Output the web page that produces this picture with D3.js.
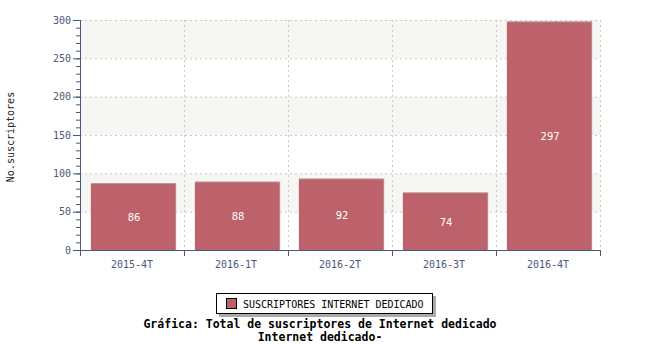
<!DOCTYPE html>
<html>
<head>
<meta charset="utf-8">
<script src="https://cdn.jsdelivr.net/npm/d3@7"></script>
<style>
  body { margin: 0; background: #fff; }
  svg text { font-family: "DejaVu Sans Mono", monospace; }
</style>
</head>
<body>
<svg id="chart" width="650" height="350"></svg>
<script>
const categories = ["2015-4T", "2016-1T", "2016-2T", "2016-3T", "2016-4T"];
const subscribers = [86, 88, 92, 74, 297];
const yTicks = [0, 50, 100, 150, 200, 250, 300];
const seriesName = "SUSCRIPTORES INTERNET DEDICADO";
const titleLines = ["Gráfica: Total de suscriptores de Internet dedicado", "Internet dedicado-"];

const svg = d3.select("#chart");
const margin = { top: 20, right: 50, bottom: 100, left: 80 };
const width = 650 - margin.left - margin.right;
const height = 350 - margin.top - margin.bottom;
const axisColor = "#4b5878";
const barColor = "#bd616b";

const x = d3.scaleBand().domain(categories).range([0, width]).padding(0);
const y = d3.scaleLinear().domain([0, 300]).range([height, 0]);

const g = svg.append("g").attr("transform", `translate(${margin.left}, ${margin.top})`);

// alternating background bands
for (let i = 0; i < yTicks.length - 1; i++) {
  if (i % 2 === 1) {
    g.append("rect")
      .attr("x", 0)
      .attr("y", y(yTicks[i + 1]))
      .attr("width", width)
      .attr("height", y(yTicks[i]) - y(yTicks[i + 1]))
      .attr("fill", "#f6f6f2");
  }
}

// grid lines
g.selectAll(".hgrid")
  .data(yTicks.slice(1))
  .join("line")
  .attr("x1", 0)
  .attr("x2", width)
  .attr("y1", (d) => y(d) + 0.5)
  .attr("y2", (d) => y(d) + 0.5)
  .attr("stroke", "#c8c8c8")
  .attr("stroke-dasharray", "2,3");

g.selectAll(".vgrid")
  .data(categories)
  .join("line")
  .attr("x1", (d) => x(d) + x.bandwidth() + 0.5)
  .attr("x2", (d) => x(d) + x.bandwidth() + 0.5)
  .attr("y1", 0)
  .attr("y2", height)
  .attr("stroke", "#c8c8c8")
  .attr("stroke-dasharray", "2,3");

// bars (with a thin lighter edge on top / right)
const bars = g.selectAll(".bar").data(categories).join("g");

bars.append("rect")
  .attr("x", (d) => x(d) + x.bandwidth() * 0.105)
  .attr("y", (d, i) => y(subscribers[i]) - 1)
  .attr("width", x.bandwidth() * 0.82)
  .attr("height", (d, i) => height - y(subscribers[i]) + 1)
  .attr("fill", "#b99198");

bars.append("rect")
  .attr("x", (d) => x(d) + x.bandwidth() * 0.105)
  .attr("y", (d, i) => y(subscribers[i]))
  .attr("width", x.bandwidth() * 0.81)
  .attr("height", (d, i) => height - y(subscribers[i]))
  .attr("fill", barColor);

bars.append("text")
  .attr("x", (d) => x(d) + x.bandwidth() * 0.52)
  .attr("y", (d, i) => (y(subscribers[i]) + height) / 2 + 4)
  .attr("text-anchor", "middle")
  .attr("fill", "#fff")
  .style("font-family", "'DejaVu Sans', sans-serif")
  .style("font-size", "10px")
  .text((d, i) => subscribers[i]);

// y axis: minor then major ticks
const yMinor = g.append("g").call(d3.axisLeft(y).tickValues(d3.range(0, 301, 10)).tickSize(4).tickFormat(""));
const yAxis = g.append("g").call(d3.axisLeft(y).tickValues(yTicks).tickSize(7).tickPadding(2));
[yMinor, yAxis].forEach((a) => {
  a.select(".domain").remove();
  a.selectAll("line").attr("stroke", axisColor);
});
yAxis.selectAll("text").attr("fill", axisColor).style("font-size", "10px");
g.append("line")
  .attr("x1", 0.5).attr("x2", 0.5)
  .attr("y1", 0).attr("y2", height + 6)
  .attr("stroke", axisColor);

// x axis: ticks on category boundaries
const xAxis = g.append("g").attr("transform", `translate(0, ${height})`);
xAxis.append("line")
  .attr("x1", 0).attr("x2", width + 1)
  .attr("y1", 0.5).attr("y2", 0.5)
  .attr("stroke", axisColor);
xAxis.selectAll(".tick-line")
  .data(categories)
  .join("line")
  .attr("x1", (d) => x(d) + x.bandwidth() + 0.5)
  .attr("x2", (d) => x(d) + x.bandwidth() + 0.5)
  .attr("y1", 0)
  .attr("y2", 6)
  .attr("stroke", axisColor);
xAxis.selectAll(".tick-label")
  .data(categories)
  .join("text")
  .attr("x", (d) => x(d) + x.bandwidth() / 2)
  .attr("y", 18)
  .attr("text-anchor", "middle")
  .attr("fill", axisColor)
  .style("font-size", "10px")
  .text((d) => d);

// y axis label
svg.append("text")
  .attr("transform", `translate(14, ${margin.top + height / 2 + 2}) rotate(-90)`)
  .attr("text-anchor", "middle")
  .style("font-size", "10px")
  .attr("fill", "#222")
  .text("No.suscriptores");

// legend
const legend = svg.append("g").attr("transform", "translate(216, 293)");
legend.append("rect").attr("x", 3).attr("y", 3).attr("width", 217).attr("height", 21).attr("fill", "#aaa");
legend.append("rect").attr("x", 0.5).attr("y", 0.5).attr("width", 216).attr("height", 20).attr("fill", "#fff").attr("stroke", "#000");
legend.append("rect").attr("x", 10.5).attr("y", 5.5).attr("width", 10).attr("height", 10).attr("fill", barColor).attr("stroke", "#000");
legend.append("text").attr("x", 27).attr("y", 14.5).style("font-size", "10px").attr("fill", "#000").text(seriesName);

// title
svg.selectAll(".title")
  .data(titleLines)
  .join("text")
  .attr("x", 320)
  .attr("y", (d, i) => 328 + i * 13)
  .attr("text-anchor", "middle")
  .style("font-size", "11.5px")
  .style("font-weight", "bold")
  .attr("fill", "#000")
  .text((d) => d);
</script>
</body>
</html>
